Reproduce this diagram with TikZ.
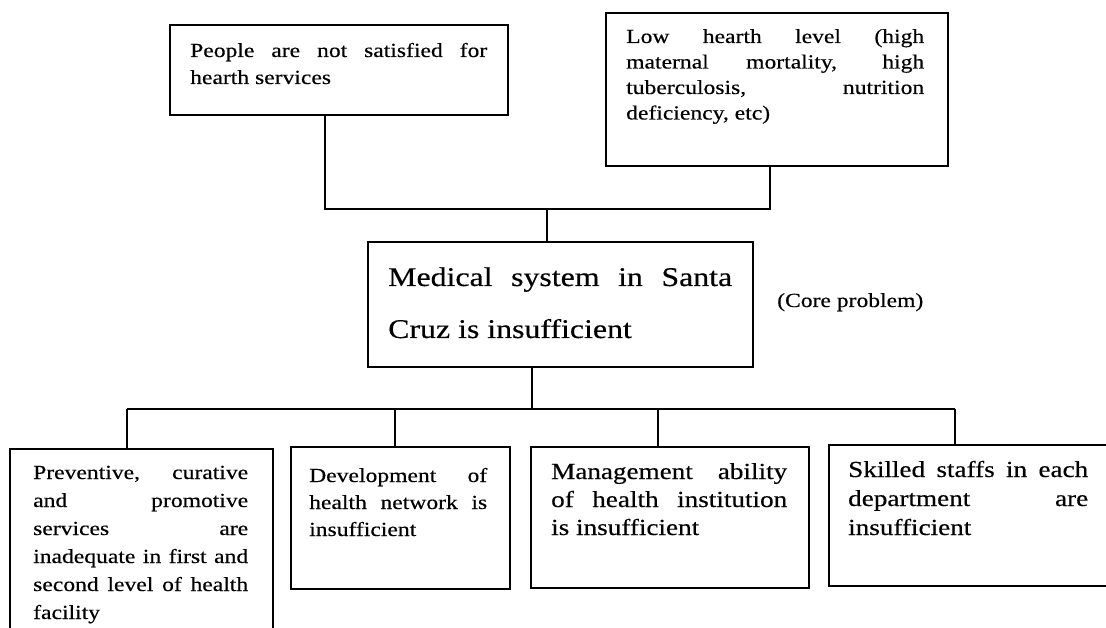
\documentclass[tikz,border=0pt]{standalone}
\usepackage{fontspec}
\setmainfont{Liberation Serif}
\newfontfamily\tf{Liberation Serif}[FakeStretch=1.18,FakeBold=0.4]
\newcommand\jl[1]{\makebox[\linewidth][s]{#1}\par}
\tikzset{
  boxnode/.style={draw, line width=1.6pt, inner sep=0pt, anchor=north west},
  txt/.style={inner sep=0pt, anchor=base west},
  conn/.style={line width=1.6pt},
}
\begin{document}
\begin{tikzpicture}[x=1pt,y=-1pt]
\useasboundingbox (0,0) rectangle (1106,628);
\fill[white] (0,0) rectangle (1106,628);
\clip (0,0) rectangle (1106,628);
% boxes
\node[boxnode, minimum width=338pt, minimum height=90pt] (A) at (169,24) {};
\node[boxnode, minimum width=342pt, minimum height=153pt] (B) at (605,12) {};
\node[boxnode, minimum width=385pt, minimum height=125pt] (core) at (367,241) {};
\node[boxnode, minimum width=263pt, minimum height=200pt] (b1) at (9,448) {};
\node[boxnode, minimum width=219pt, minimum height=142pt] (b2) at (290,446) {};
\node[boxnode, minimum width=278pt, minimum height=141pt] (b3) at (530,446) {};
\node[boxnode, minimum width=300pt, minimum height=141pt] (b4) at (828,444) {};
% texts
\node[txt] (tA) at (190,57) {\parbox[t]{297pt}{\tf\fontsize{20}{27}\selectfont
  \jl{People are not satisfied for}hearth services}};
\node[txt] (tB) at (626,43) {\parbox[t]{298pt}{\tf\fontsize{20}{25.5}\selectfont
  \jl{Low hearth level (high}\jl{maternal mortality, high}\jl{tuberculosis, nutrition}deficiency, etc)}};
\node[txt] (tcore) at (388,286) {\parbox[t]{344pt}{\tf\fontsize{27}{52}\selectfont
  \jl{Medical system in Santa}Cruz is insufficient}};
\node[txt] (tcp) at (777,307) {\tf\fontsize{20}{24}\selectfont (Core problem)};
\node[txt] (t1) at (33,479) {\parbox[t]{215pt}{\tf\fontsize{20}{28}\selectfont
  \jl{Preventive, curative}\jl{and promotive}\jl{services are}\jl{inadequate in first and}\jl{second level of health}facility}};
\node[txt] (t2) at (309,482) {\parbox[t]{178pt}{\tf\fontsize{20}{27}\selectfont
  \jl{Development of}\jl{health network is}insufficient}};
\node[txt] (t3) at (551,479) {\parbox[t]{236pt}{\tf\fontsize{23}{28}\selectfont
  \jl{Management ability}\jl{of health institution}is insufficient}};
\node[txt] (t4) at (848,477) {\parbox[t]{240pt}{\tf\fontsize{23}{29}\selectfont
  \jl{Skilled staffs in each}\jl{department are}insufficient}};
% connectors top
\coordinate (jA) at (325,209);
\coordinate (jB) at (770,209);
\coordinate (jC) at (547,209);
\draw[conn] (A.south -| jA) -- (jA) -- (jB) -- (B.south -| jB);
\draw[conn] (jC) -- (core.north -| jC);
% connectors bottom
\coordinate (jD) at (532,409);
\coordinate (d1) at (127,409);
\coordinate (d2) at (395,409);
\coordinate (d3) at (658,409);
\coordinate (d4) at (955,409);
\draw[conn] (core.south -| jD) -- (jD);
\draw[conn] (d1) -- (d4);
\draw[conn] (d1) -- (b1.north -| d1);
\draw[conn] (d2) -- (b2.north -| d2);
\draw[conn] (d3) -- (b3.north -| d3);
\draw[conn] (d4) -- (b4.north -| d4);
\end{tikzpicture}
\end{document}
